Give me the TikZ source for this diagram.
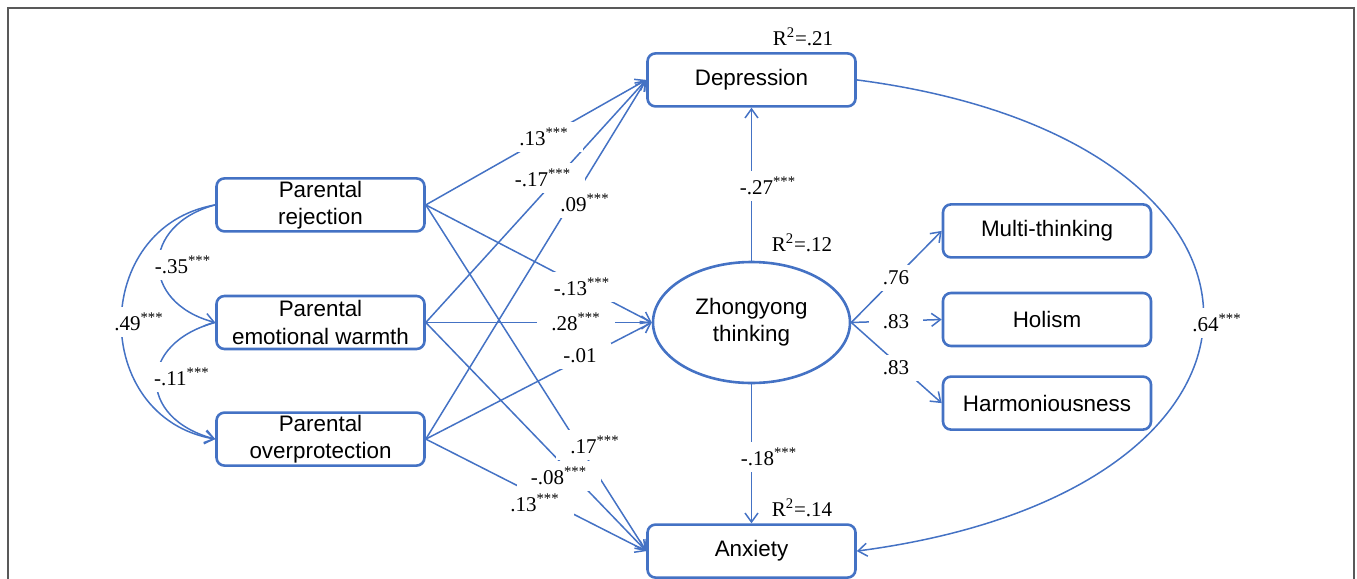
\documentclass[tikz,border=0pt]{standalone}
\usepackage{fontspec}
\setmainfont{Liberation Serif}
\setsansfont{Liberation Sans}
\usetikzlibrary{arrows.meta}
\usetikzlibrary{positioning}
\usetikzlibrary{shapes.geometric}
\definecolor{semBlue}{HTML}{4472C4}
\definecolor{frameGray}{HTML}{595959}
\newcommand\sig{\textsuperscript{***}}
\tikzset{
	obsVar/.style={rectangle, rounded corners=4pt, draw=semBlue, line width=1.3pt, minimum width=104pt, minimum height=26.5pt, inner sep=0pt, align=center, font=\sffamily\fontsize{11.2}{13.6}\selectfont},
	latVar/.style={ellipse, draw=semBlue, line width=1.3pt, minimum width=98.5pt, minimum height=60.5pt, inner sep=0pt, align=center, font=\sffamily\fontsize{11.2}{13.6}\selectfont},
	regPath/.style={draw=semBlue, line width=0.75pt, -{Straight Barb[length=4.5pt,width=6.5pt]}},
	coef/.style={fill=white, inner xsep=7pt, inner ysep=3pt, font=\fontsize{10.5}{12}\selectfont},
	rsq/.style={inner sep=0pt, font=\fontsize{10.5}{12}\selectfont},
}
\begin{document}
\begin{tikzpicture}[x=0.5pt, y=-0.5pt,
		covLabel/.style={coef, inner xsep=1.5pt}]

		% picture size and frame
		\useasboundingbox (0,0) rectangle (1357,579);
		\draw[frameGray, line width=0.6pt] (8,8) rectangle (1354,640);

		% latent mediator - used as start point for the outcomes
		\node[latVar] (zy) at (751.5,322.5) {Zhongyong\\thinking};
		\node[obsVar, above = 76.5pt of zy] (dep) {Depression};
		\node[obsVar, below = 69.5pt of zy] (anx) {Anxiety};

		% parenting styles on the left
		\node[obsVar] (warm) at (320.5,322.5) {Parental\\emotional warmth};
		\node[obsVar, above = 31pt of warm] (rej) {Parental\\rejection};
		\node[obsVar, below = 30.5pt of warm] (over) {Parental\\overprotection};

		% indicators of zhongyong thinking
		\node[obsVar] (holism) at (1047,319.5) {Holism};
		\node[obsVar, above = 16.5pt of holism] (multi) {Multi-thinking};
		\node[obsVar, below = 14pt of holism] (harm) {Harmoniousness};

		% paths from every parenting style to the mediator and outcomes
		\foreach \src in {rej, warm, over}
		{
			\foreach \dst in {dep, zy, anx}
			{
				\draw[regPath] (\src.east) -- (\dst.west);
			}
		}

		% mediator paths
		\draw[regPath] (zy) -- (dep);
		\draw[regPath] (zy) -- (anx);
		\foreach \ind in {multi, holism, harm}
		{
			\draw[regPath] (zy.east) -- (\ind.west);
		}

		% covariances between parenting styles
		\draw[regPath] (rej.west) to[out=195, in=165, looseness=1.7] (warm.west);
		\draw[regPath] (rej.west) to[out=190, in=170, looseness=1.39] (over.west);
		\draw[regPath] (warm.west) to[out=195, in=165, looseness=1.78] (over.west);

		% depression to anxiety
		\draw[regPath] (dep.east) .. controls (1318,140) and (1320,490) .. (anx.east);

		% coefficients on the paths
		\node[coef] (cRejDep) at (544,137) {.13\sig};
		\node[coef] (cWarmDep) at (543,178) {-.17\sig};
		\node[coef] (cOverDep) at (585,203) {.09\sig};
		\node[coef] (cRejZy) at (582,287) {-.13\sig};
		\node[coef] (cWarmZy) at (576,322) {.28\sig};
		\node[coef] (cOverZy) at (580,356) {-.01};
		\node[coef] (cRejAnx) at (595,445) {.17\sig};
		\node[coef] (cWarmAnx) at (559,476) {-.08\sig};
		\node[coef] (cOverAnx) at (535,503) {.13\sig};
		\node[coef] (cZyDep) at (768,186) {-.27\sig};
		\node[coef] (cZyAnx) at (769,457) {-.18\sig};
		\node[coef] (cMulti) at (896,278) {.76};
		\node[coef] (cHolism) at (896,322) {.83};
		\node[coef] (cHarm) at (896,368) {.83};
		\node[coef, inner xsep=1.5pt] (cDepAnx) at (1217,323) {.64\sig};
		\node[covLabel] (cRejWarm) at (183,265) {-.35\sig};
		\node[covLabel] (cRejOver) at (139,322) {.49\sig};
		\node[covLabel] (cWarmOver) at (182,377) {-.11\sig};

		% explained variance
		\node[rsq] (rDep) at (803,37) {R\textsuperscript{2}=.21};
		\node[rsq] (rZy) at (802,243) {R\textsuperscript{2}=.12};
		\node[rsq] (rAnx) at (802,508) {R\textsuperscript{2}=.14};

	\end{tikzpicture}
\end{document}
